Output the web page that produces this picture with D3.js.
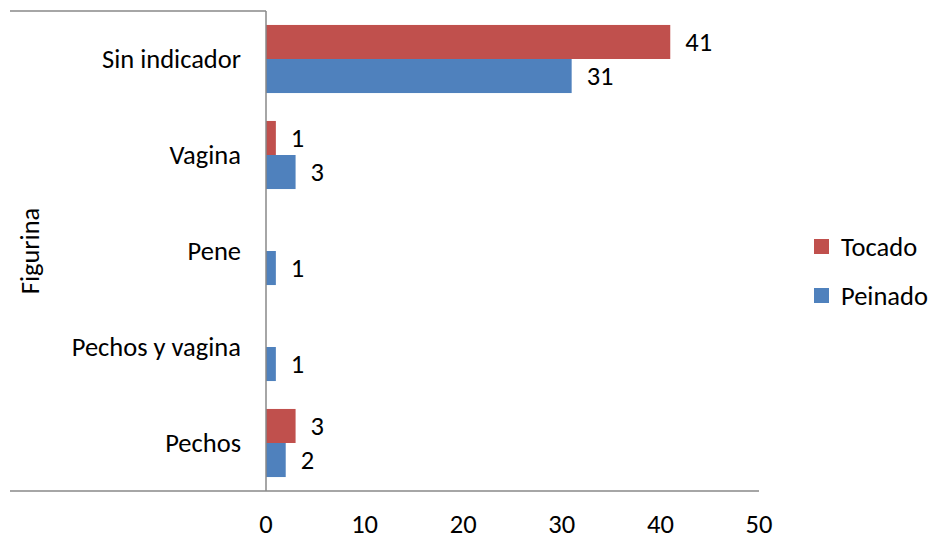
<!DOCTYPE html>
<html>
<head>
<meta charset="utf-8">
<script src="https://cdn.jsdelivr.net/npm/d3@7"></script>
<style>
  body { margin: 0; background: #fff; }
  text { font-family: Carlito, Calibri, Lato, sans-serif; fill: #000; }
</style>
</head>
<body>
<svg id="chart" width="930" height="537"></svg>
<script>
// categories from top to bottom, as in the picture
var categories = ['Sin indicador', 'Vagina', 'Pene', 'Pechos y vagina', 'Pechos'];
var series = ['Tocado', 'Peinado'];
var tocado = [41, 1, null, null, 3];
var peinado = [31, 3, 1, 1, 2];
var xTicks = [0, 10, 20, 30, 40, 50];
var colors = { Tocado: '#C0504D', Peinado: '#4F81BD' };

var fontSize = 26.5;
var svg = d3.select('#chart');

var plot = { left: 266, right: 759, top: 11, bottom: 491 };

var x = d3.scaleLinear().domain([0, 50]).range([plot.left, plot.right]);
var y0 = d3.scaleBand().domain(categories).range([plot.top, plot.bottom]).padding(0);
var y1 = d3.scaleBand().domain(series).range([0, y0.bandwidth()]).paddingInner(0).paddingOuter(0.41);

var rows = categories.map(function(c, i) {
  return { cat: c, values: [
    { s: 'Tocado', v: tocado[i] },
    { s: 'Peinado', v: peinado[i] }
  ]};
});

var groups = svg.selectAll('g.cat')
  .data(rows)
  .enter()
  .append('g')
  .attr('class', 'cat')
  .attr('transform', function(d) { return 'translate(0,' + y0(d.cat) + ')'; });

var bars = groups.selectAll('g.bar')
  .data(function(d) { return d.values.filter(function(e) { return e.v != null; }); })
  .enter()
  .append('g');

bars.append('rect')
  .attr('x', x(0))
  .attr('y', function(d) { return y1(d.s); })
  .attr('width', function(d) { return x(d.v) - x(0); })
  .attr('height', y1.bandwidth())
  .attr('fill', function(d) { return colors[d.s]; });

bars.append('text')
  .attr('x', function(d) { return x(d.v) + 15; })
  .attr('y', function(d) { return y1(d.s) + y1.bandwidth() / 2; })
  .attr('dy', '0.35em')
  .attr('font-size', fontSize)
  .text(function(d) { return d.v; });

// axis lines
svg.append('line')
  .attr('x1', 10).attr('x2', plot.left)
  .attr('y1', plot.top).attr('y2', plot.top)
  .attr('stroke', '#898989').attr('stroke-width', 1.5);
svg.append('line')
  .attr('x1', 10).attr('x2', plot.right)
  .attr('y1', plot.bottom).attr('y2', plot.bottom)
  .attr('stroke', '#898989').attr('stroke-width', 1.5);
svg.append('line')
  .attr('x1', plot.left).attr('x2', plot.left)
  .attr('y1', plot.top).attr('y2', plot.bottom)
  .attr('stroke', '#898989').attr('stroke-width', 1.5);

// category labels
svg.selectAll('text.catlabel')
  .data(categories)
  .enter()
  .append('text')
  .attr('class', 'catlabel')
  .attr('x', 241)
  .attr('y', function(d) { return y0(d) + y0.bandwidth() / 2; })
  .attr('dy', '0.35em')
  .attr('text-anchor', 'end')
  .attr('font-size', fontSize)
  .text(function(d) { return d; });

// x tick labels
svg.selectAll('text.xtick')
  .data(xTicks)
  .enter()
  .append('text')
  .attr('class', 'xtick')
  .attr('x', function(d) { return x(d); })
  .attr('y', 523.5)
  .attr('dy', '0.35em')
  .attr('text-anchor', 'middle')
  .attr('font-size', fontSize)
  .text(function(d) { return d; });

// y title
svg.append('text')
  .attr('transform', 'translate(30,251) rotate(-90)')
  .attr('text-anchor', 'middle')
  .attr('dy', '0.35em')
  .attr('font-size', fontSize)
  .text('Figurina');

// legend
var legend = svg.selectAll('g.legend')
  .data(series)
  .enter()
  .append('g')
  .attr('transform', function(d, i) { return 'translate(814,' + (239 + i * 49) + ')'; });
legend.append('rect')
  .attr('width', 15).attr('height', 15)
  .attr('fill', function(d) { return colors[d]; });
legend.append('text')
  .attr('x', 27).attr('y', 7.5)
  .attr('dy', '0.35em')
  .attr('font-size', fontSize)
  .text(function(d) { return d; });
</script>
</body>
</html>
